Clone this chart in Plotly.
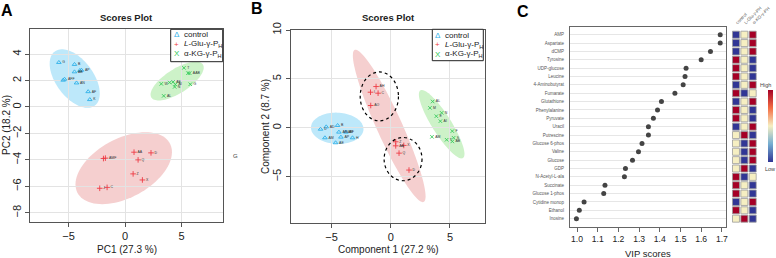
import numpy as np
import plotly.graph_objects as go

W, H = 776, 258
FONT = "Liberation Sans, Arial, sans-serif"

# ---------------- Panel A (PCA scores) ----------------
a_ctrl_x = [-5.85, -4.47, -4.47, -4.0, -3.85, -5.47, -5.35, -4.29, -3.26, -3.12]
a_ctrl_y = [3.37, 3.22, 2.66, 2.76, 2.78, 2.03, 2.10, 1.82, 1.16, 0.56]
a_ctrl_lab = ["G", "B", "AB", "", "AP", "", "AFF", "AN", "AF", "K"]
a_glu_x = [-1.91, -1.74, 0.79, 2.29, 1.15, 0.71, 1.53, -2.24, -1.59]
a_glu_y = [-3.90, -3.87, -3.42, -3.47, -4.00, -5.06, -5.52, -6.15, -6.08]
a_glu_lab = ["", "AMF", "AA", "D", "Q", "Z", "X", "J", "C"]
a_akg_x = [5.20, 5.56, 5.70, 3.20, 3.94, 4.24, 4.44, 4.38, 5.76, 3.41]
a_akg_y = [2.96, 2.56, 2.56, 1.75, 1.85, 1.90, 1.70, 1.52, 1.72, 0.84]
a_akg_lab = ["T", "", "AAB", "W", "", "AE", "AI", "N", "G", "AL"]
# ellipse params: centre x, centre y, semi-major, semi-minor, angle (deg)
a_ell_ctrl = [-4.45, 2.15, 2.72, 1.55, -45.0]
a_ell_glu = [-0.12, -4.63, 4.5, 2.3, 22.0]
a_ell_akg = [4.6, 1.96, 2.6, 0.95, 27.5]

# ---------------- Panel B (PLS-DA scores) ----------------
b_ctrl_x = [-5.93, -5.45, -4.49, -5.56, -4.38, -3.79, -4.21, -3.23, -4.66]
b_ctrl_y = [-0.14, 0.10, 0.24, -1.02, -0.44, -0.44, -0.95, -1.02, -1.53]
b_ctrl_lab = ["U", "AD", "B", "AM", "AB/AR", "AF", "AP", "H", "AE"]
b_glu_x = [-1.24, -1.71, -1.07, -1.69, 0.42, 0.42, 1.10, 0.70, 1.54]
b_glu_y = [4.22, 3.64, 3.54, 2.28, -1.43, -1.84, -1.80, -2.59, -4.32]
b_glu_lab = ["AH", "I", "C", "AO", "Z", "AA", "X", "Q", "D"]
b_akg_x = [3.54, 3.31, 4.30, 3.85, 4.19, 5.20, 3.48, 4.72, 5.31, 5.20]
b_akg_y = [2.69, 2.04, 1.53, 1.19, 0.68, -0.34, -0.92, -1.22, -1.02, -1.39]
b_akg_lab = ["AL", "M", "N", "E", "AI", "F", "AM", "T", "S", "AB"]
b_ell_ctrl = [-4.52, -0.05, 2.22, 1.6, -4.0]
b_ell_glu = [-0.13, 0.19, 8.3, 1.1, -69.6]
b_ell_akg = [4.3, 0.37, 3.9, 0.85, -63.0]
# dotted cluster circles: x0, x1, y0, y1
b_circ_up = [-2.58, 0.65, 0.71, 5.71]
b_circ_dn = [-0.56, 2.64, -5.41, -0.99]

# ---------------- Panel C (VIP scores) ----------------
metabolites = ["AMP", "Aspartate", "dCMP", "Tyrosine", "UDP-glucose", "Leucine",
               "4-Aminobutyrat", "Fumarate", "Glutathione", "Phenylalanine",
               "Pyruvate", "Uracil", "Putrescine", "Glucose 6-phos", "Valine",
               "Glucose", "GDP", "N-Acetyl-L-ala", "Succinate", "Glucose 1-phos",
               "Cytidine monop", "Ethanol", "Inosine"]
vip = [1.692, 1.692, 1.645, 1.600, 1.527, 1.522, 1.513, 1.473, 1.408, 1.389,
       1.369, 1.345, 1.345, 1.314, 1.297, 1.268, 1.234, 1.229, 1.135, 1.129,
       1.034, 1.011, 0.997]
heat_ctrl = [-1, -1, -1, 1, 1, 1, -1, 1, -1, 1, 1, -1, 0, 0, 0, 0, 0, 1, 1, 1, -1, 1, 0]
heat_glu = [0, 0, 0, 0, 0, 0, 0, -1, 0, 0, 0, 0, 1, -1, -1, -1, 1, -1, 0, 0, 0, 0, 1]
heat_akg = [1, 1, 1, -1, -1, -1, 1, 0, 1, -1, -1, 1, -1, 1, 1, 1, -1, 0, -1, -1, 1, -1, -1]
heat_cols = ["control", "L-Glu-γ-PH", "α-KG-γ-PH"]
vip_ticks = [1.0, 1.1, 1.2, 1.3, 1.4, 1.5, 1.6, 1.7]

C_BLUE = "#2fb0e8"
C_RED = "#ee3b45"
C_GREEN = "#35c95a"
F_BLUE = "#bde8fa"
F_RED = "#f5cfcf"
F_GREEN = "#cdf2c8"


def px(x):
    return x / W


def py(y):
    return 1 - y / H


def ell_path(p):
    cx, cy, a, b, th = p
    th = np.radians(th)
    t = np.linspace(0, 2 * np.pi, 91)
    x = cx + a * np.cos(th) * np.cos(t) - b * np.sin(th) * np.sin(t)
    y = cy + a * np.sin(th) * np.cos(t) + b * np.cos(th) * np.sin(t)
    return "M " + " L ".join(f"{xi:.4f},{yi:.4f}" for xi, yi in zip(x, y)) + " Z"


fig = go.Figure()


def add_group(xs, ys, labs, sym, color, xa, ya, size, lw):
    fig.add_trace(go.Scatter(
        x=xs, y=ys, mode="markers+text", text=labs, textposition="middle right",
        textfont=dict(size=3.5, color="#333", family=FONT),
        marker=dict(symbol=sym, size=size, color=color, line=dict(color=color, width=lw)),
        xaxis=xa, yaxis=ya, showlegend=False, hoverinfo="skip", cliponaxis=False))


add_group(a_ctrl_x, a_ctrl_y, a_ctrl_lab, "triangle-up-open", C_BLUE, "x", "y", 4, 0.9)
add_group(a_glu_x, a_glu_y, a_glu_lab, "cross-thin", C_RED, "x", "y", 4, 0.9)
add_group(a_akg_x, a_akg_y, a_akg_lab, "x-thin", C_GREEN, "x", "y", 3.5, 0.9)
add_group(b_ctrl_x, b_ctrl_y, b_ctrl_lab, "triangle-up-open", C_BLUE, "x2", "y2", 4, 0.9)
add_group(b_glu_x, b_glu_y, b_glu_lab, "cross-thin", C_RED, "x2", "y2", 4, 0.9)
add_group(b_akg_x, b_akg_y, b_akg_lab, "x-thin", C_GREEN, "x2", "y2", 3.5, 0.9)

# VIP dots
fig.add_trace(go.Scatter(x=vip, y=metabolites, mode="markers",
                         marker=dict(size=5, color="#444"),
                         xaxis="x3", yaxis="y3", showlegend=False, hoverinfo="skip"))

# heatmap cells
hx, hy, hv = [], [], []
for i, m in enumerate(metabolites):
    for j, col in enumerate([heat_ctrl, heat_glu, heat_akg]):
        hx.append(j)
        hy.append(m)
        hv.append(col[i])
scale = [[0, "#313695"], [0.25, "#74add1"], [0.5, "#f6efc2"], [0.75, "#f46d43"], [1, "#a50026"]]
fig.add_trace(go.Scatter(
    x=hx, y=hy, mode="markers", xaxis="x4", yaxis="y4", showlegend=False, hoverinfo="skip",
    marker=dict(symbol="square", size=7, color=hv, colorscale=scale, cmin=-1, cmax=1,
                line=dict(color="#9a9a9a", width=0.8), showscale=True,
                colorbar=dict(x=px(768), xanchor="left", xpad=0, ypad=0,
                              y=py(125.8), yanchor="middle", len=71.7 / H, lenmode="fraction",
                              thickness=5, outlinewidth=0, showticklabels=False, ticks=""))))

shapes = []
for p, col, xr, yr in [(a_ell_ctrl, F_BLUE, "x", "y"), (a_ell_glu, F_RED, "x", "y"),
                       (a_ell_akg, F_GREEN, "x", "y"), (b_ell_ctrl, F_BLUE, "x2", "y2"),
                       (b_ell_glu, F_RED, "x2", "y2"), (b_ell_akg, F_GREEN, "x2", "y2")]:
    shapes.append(dict(type="path", path=ell_path(p), xref=xr, yref=yr, fillcolor=col,
                       line=dict(width=0), layer="below"))
for c in [b_circ_up, b_circ_dn]:
    shapes.append(dict(type="circle", xref="x2", yref="y2", x0=c[0], x1=c[1], y0=c[2], y1=c[3],
                       line=dict(color="black", width=1.2, dash="dot"), layer="above"))
# legend boxes
for (x0, x1, y0, y1) in [(170.7, 222.7, 29.3, 61.7), (432.3, 483.3, 29.3, 60.7)]:
    shapes.append(dict(type="rect", xref="paper", yref="paper", x0=px(x0), x1=px(x1),
                       y0=py(y1), y1=py(y0), line=dict(color="#222", width=1),
                       fillcolor="white", layer="above"))

ann = []


def text(x, y, s, size, color="#222", bold=False, xanchor="center", angle=0, yanchor="middle"):
    ann.append(dict(x=px(x), y=py(y), xref="paper", yref="paper", text=f"<b>{s}</b>" if bold else s,
                    showarrow=False, xanchor=xanchor, yanchor=yanchor, textangle=angle,
                    font=dict(size=size, color=color, family=FONT)))


text(7, 11, "A", 16, "black", True)
text(257, 9, "B", 16, "black", True)
text(523, 11.5, "C", 16, "black", True)
text(126.5, 17, "Scores Plot", 9.5, bold=True)
text(388, 17, "Scores Plot", 9.5, bold=True)
text(126.5, 249, "PC1 (27.3 %)", 10)
text(388, 249, "Component 1 (27.2 %)", 10)
text(6, 125, "PC2 (18.2 %)", 10, angle=-90)
text(265, 127, "Component 2 (8.7 %)", 10, angle=-90)
text(648, 253, "VIP scores", 9.5)
text(236, 155.5, "G", 6, "#444")
text(765, 85, "High", 5.5, "#444")
text(770, 168.5, "Low", 5.5, "#444")

for sx, tx, rows in [(176.7, 182, [34.7, 44.2, 53.8]), (437.7, 443, [35, 45, 54.3])]:
    for sym, col, lab, yy in zip(["Δ", "+", "X"], [C_BLUE, C_RED, C_GREEN],
                                 ["control", "<i>L</i>-Glu-γ-P<sub>H</sub>", "α-KG-γ-P<sub>H</sub>"],
                                 rows):
        text(sx, yy, sym, 8, col)
        text(tx, yy, lab, 8, "#222", xanchor="left")

ax_common = dict(showline=True, mirror=True, linecolor="#555", linewidth=1, ticks="outside",
                 ticklen=4, tickcolor="#555", zeroline=False, showgrid=True,
                 gridcolor="#e3e3e3", gridwidth=1, automargin=False,
                 tickfont=dict(size=11, color="#222", family=FONT))

fig.update_layout(
    width=W, height=H, margin=dict(l=0, r=0, t=0, b=0, autoexpand=False),
    paper_bgcolor="white", plot_bgcolor="white", showlegend=False,
    font=dict(family=FONT),
    xaxis=dict(domain=[px(30), px(223)], range=[-8.4, 8.65], tickvals=[-5, 0, 5],
               anchor="y", **ax_common),
    yaxis=dict(domain=[py(222), py(29)], range=[-8.7, 5.9], tickvals=[4, 2, 0, -2, -4, -6, -8],
               tickangle=-90, anchor="x", **ax_common),
    xaxis2=dict(domain=[px(290.7), px(485)], range=[-8.45, 7.96], tickvals=[-5, 0, 5],
                anchor="y2", **ax_common),
    yaxis2=dict(domain=[py(222.7), py(30)], range=[-9.7, 10.0], tickvals=[10, 5, 0, -5],
                tickangle=-90, anchor="x2", **ax_common),
    xaxis3=dict(domain=[px(570), px(726)], range=[0.966, 1.72], tickvals=vip_ticks,
                ticktext=[f"{v:.1f}" for v in vip_ticks], anchor="y3", automargin=False,
                showline=True, mirror=True, linecolor="#666", linewidth=1, ticks="outside",
                ticklen=4, tickcolor="#666", showgrid=False, zeroline=False,
                tickfont=dict(size=8.6, color="#222", family=FONT)),
    yaxis3=dict(domain=[py(226.7), py(27)], type="category", categoryorder="array",
                categoryarray=metabolites, range=[22.96, -0.92], anchor="x3", automargin=False,
                showline=True, mirror=True, linecolor="#666", linewidth=1,
                ticks="outside", ticklen=4, tickcolor="rgba(0,0,0,0)",
                showgrid=True, gridcolor="#e6e6e6", gridwidth=1, zeroline=False,
                tickfont=dict(size=4.5, color="#555", family=FONT)),
    xaxis4=dict(domain=[px(731.8), px(756.9)], range=[-0.5, 2.5], anchor="y4", side="top",
                tickvals=[0, 1, 2], ticktext=heat_cols, tickangle=-45, showgrid=False,
                zeroline=False, showline=False, ticks="", automargin=False,
                tickfont=dict(size=4.5, color="#555", family=FONT)),
    yaxis4=dict(domain=[py(226.7), py(27)], type="category", categoryorder="array",
                categoryarray=metabolites, range=[22.96, -0.92], anchor="x4", automargin=False,
                showticklabels=False, showgrid=False, zeroline=False, showline=False),
    shapes=shapes, annotations=ann,
)

fig.write_html("out.html", config={"displayModeBar": False},
               post_script="document.body.style.margin='0';document.body.style.overflow='hidden';")
